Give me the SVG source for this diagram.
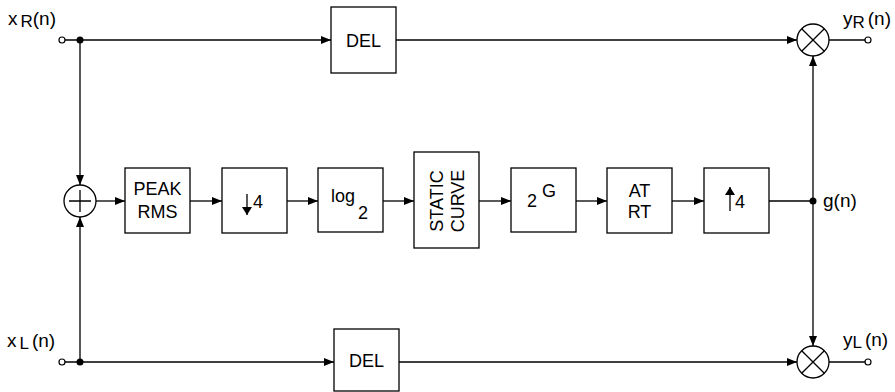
<svg xmlns="http://www.w3.org/2000/svg" width="895" height="392" viewBox="0 0 895 392">
<defs>
<marker id="ah" markerWidth="10" markerHeight="8" refX="10" refY="4" orient="auto" markerUnits="userSpaceOnUse">
<path d="M0,0 L10,4 L0,8 Z" fill="#000"/>
</marker>
<marker id="sa" markerWidth="8" markerHeight="10" refX="8" refY="5" orient="auto" markerUnits="userSpaceOnUse">
<path d="M0,0 L8,5 L0,10 Z" fill="#000"/>
</marker>
</defs>
<style>
.box{fill:#fff;stroke:#000;stroke-width:1.3}
.ln{fill:none;stroke:#000;stroke-width:1.3}
.t{font-family:"Liberation Sans",Arial,sans-serif;font-size:18px;fill:#000}
.lb{font-family:"Liberation Sans",Arial,sans-serif;font-size:19px;fill:#000}
.sub{font-size:17px}
.oc{fill:#fff;stroke:#000;stroke-width:1.2}
.dot{fill:#000}
</style>
<rect width="895" height="392" fill="#fff"/>
<g id="connectors">
<path class="ln" d="M65,40 H80 V185" marker-end="url(#ah)"/>
<path class="ln" d="M80,40 H331" marker-end="url(#ah)"/>
<path class="ln" d="M396,40 H797" marker-end="url(#ah)"/>
<path class="ln" d="M829,40 H865"/>
<path class="ln" d="M65,362 H80 V217" marker-end="url(#ah)"/>
<path class="ln" d="M80,362 H334" marker-end="url(#ah)"/>
<path class="ln" d="M399,362 H797" marker-end="url(#ah)"/>
<path class="ln" d="M829,362 H865"/>
<path class="ln" d="M96,201 H125" marker-end="url(#ah)"/>
<path class="ln" d="M190,201 H222" marker-end="url(#ah)"/>
<path class="ln" d="M287,201 H318" marker-end="url(#ah)"/>
<path class="ln" d="M383,201 H414" marker-end="url(#ah)"/>
<path class="ln" d="M479,201 H511" marker-end="url(#ah)"/>
<path class="ln" d="M576,201 H607" marker-end="url(#ah)"/>
<path class="ln" d="M672,201 H704" marker-end="url(#ah)"/>
<path class="ln" d="M769,201 H813"/>
<path class="ln" d="M813,201 V56" marker-end="url(#ah)"/>
<path class="ln" d="M813,201 V346" marker-end="url(#ah)"/>
<circle class="dot" cx="80" cy="40" r="3.5"/>
<circle class="dot" cx="80" cy="362" r="3.5"/>
<circle class="dot" cx="813" cy="201" r="3.5"/>
<circle class="oc" cx="62" cy="40" r="3"/>
<circle class="oc" cx="62" cy="362" r="3"/>
<circle class="oc" cx="868" cy="40" r="3"/>
<circle class="oc" cx="868" cy="362" r="3"/>
</g>
<g id="xR"><text class="lb" x="8" y="25">x<tspan class="sub" dx="3" dy="2">R</tspan><tspan dy="-2">(n)</tspan></text></g>
<g id="xL"><text class="lb" x="7" y="347">x<tspan class="sub" dx="3" dy="2">L</tspan><tspan dx="3" dy="-2">(n)</tspan></text></g>
<g id="yR"><text class="lb" x="843" y="25">y<tspan class="sub" dy="3">R</tspan><tspan dx="3" dy="-3">(n)</tspan></text></g>
<g id="yL"><text class="lb" x="843" y="346">y<tspan class="sub" dy="2">L</tspan><tspan dx="3" dy="-2">(n)</tspan></text></g>
<g id="gn"><text class="lb" x="823" y="207">g(n)</text></g>
<g id="delR"><rect class="box" x="331" y="7" width="65" height="66"/><text class="t" x="363.5" y="47" text-anchor="middle">DEL</text></g>
<g id="delL"><rect class="box" x="334" y="329" width="65" height="62"/><text class="t" x="366.5" y="367" text-anchor="middle">DEL</text></g>
<g id="sum"><circle class="ln" cx="80" cy="201" r="16"/><path class="ln" d="M69,201 H91 M80,190 V212"/></g>
<g id="mulR"><circle class="ln" cx="813" cy="40" r="16"/><path class="ln" d="M801.7,28.7 L824.3,51.3 M824.3,28.7 L801.7,51.3"/></g>
<g id="mulL"><circle class="ln" cx="813" cy="362" r="16"/><path class="ln" d="M801.7,350.7 L824.3,373.3 M824.3,350.7 L801.7,373.3"/></g>
<g id="peak"><rect class="box" x="125" y="168" width="65" height="65"/><text class="t" x="157.5" y="195" text-anchor="middle">PEAK</text><text class="t" x="157.5" y="218" text-anchor="middle">RMS</text></g>
<g id="down4"><rect class="box" x="222" y="168" width="65" height="65"/><path class="ln" d="M247,194 V215" marker-end="url(#sa)"/><text class="t" x="253" y="208">4</text></g>
<g id="log2"><rect class="box" x="318" y="168" width="65" height="64"/><text class="t" x="331" y="202">log</text><text class="t" x="358" y="219">2</text></g>
<g id="static"><rect class="box" x="414" y="152" width="65" height="96"/><text class="t" transform="translate(443,201) rotate(-90)" text-anchor="middle">STATIC</text><text class="t" transform="translate(464,201) rotate(-90)" text-anchor="middle">CURVE</text></g>
<g id="pow2"><rect class="box" x="511" y="168" width="65" height="64"/><text class="t" x="527" y="207">2</text><text class="t" x="542" y="197">G</text></g>
<g id="atrt"><rect class="box" x="607" y="168" width="65" height="65"/><text class="t" x="639.5" y="197" text-anchor="middle">AT</text><text class="t" x="639.5" y="218" text-anchor="middle">RT</text></g>
<g id="up4"><rect class="box" x="704" y="168" width="65" height="65"/><path class="ln" d="M730,211 V187" marker-end="url(#sa)"/><text class="t" x="735" y="208">4</text></g>
</svg>
